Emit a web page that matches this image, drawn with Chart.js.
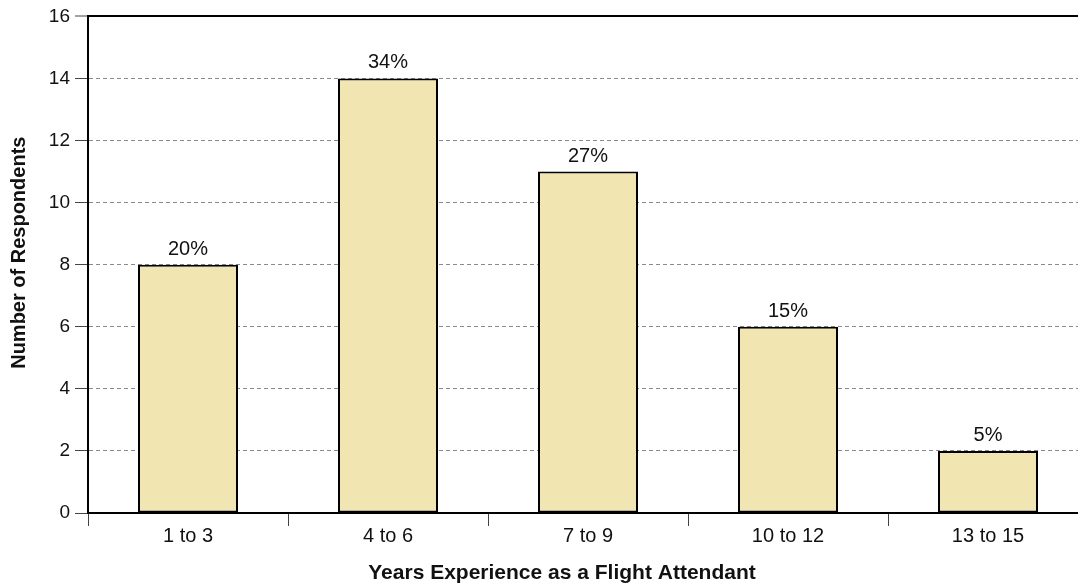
<!DOCTYPE html>
<html>
<head>
<meta charset="utf-8">
<script src="https://cdn.jsdelivr.net/npm/chart.js@4/dist/chart.umd.min.js"></script>
<style>
html,body{margin:0;padding:0;background:#fff;overflow:hidden;width:1078px;height:586px;}
#wrap{width:1088px;height:586px;}
</style>
</head>
<body>
<div id="wrap"><canvas id="c" width="1088" height="586"></canvas></div>
<script>
const categories = ["1 to 3", "4 to 6", "7 to 9", "10 to 12", "13 to 15"];
const respondents = [8, 14, 11, 6, 2];
const percentLabels = ["20%", "34%", "27%", "15%", "5%"];
const yTicks = [0, 2, 4, 6, 8, 10, 12, 14, 16];
const xTitle = "Years Experience as a Flight Attendant";
const yTitle = "Number of Respondents";

const FONT = "'Liberation Sans', Arial, sans-serif";

const barLabels = {
  id: 'barLabels',
  afterDatasetsDraw(chart) {
    const ctx = chart.ctx;
    const meta = chart.getDatasetMeta(0);
    ctx.save();
    ctx.font = "20px " + FONT;
    ctx.fillStyle = "#111";
    ctx.textAlign = "center";
    ctx.textBaseline = "alphabetic";
    meta.data.forEach((bar, i) => {
      ctx.fillText(percentLabels[i], bar.x, bar.y - 10);
    });
    ctx.restore();
  }
};

const axisTitles = {
  id: 'axisTitles',
  afterDraw(chart) {
    const ctx = chart.ctx;
    const a = chart.chartArea;
    ctx.save();
    ctx.fillStyle = "#111";
    ctx.textAlign = "center";
    ctx.textBaseline = "alphabetic";
    ctx.font = "bold 21px " + FONT;
    ctx.fillText(xTitle, (a.left + a.right) / 2 - 26, 579);
    ctx.translate(25, (a.top + a.bottom) / 2 - 12);
    ctx.rotate(-Math.PI / 2);
    ctx.font = "bold 20px " + FONT;
    ctx.fillText(yTitle, 0, 0);
    ctx.restore();
  }
};

new Chart(document.getElementById('c'), {
  type: 'bar',
  data: {
    labels: categories,
    datasets: [{
      data: respondents,
      backgroundColor: '#F1E5B1',
      borderColor: '#000',
      borderWidth: 2,
      borderSkipped: false,
      categoryPercentage: 1.0,
      barPercentage: 0.5
    }]
  },
  options: {
    responsive: false,
    animation: false,
    devicePixelRatio: 1,
    layout: { padding: { top: 14, right: 0, left: 0, bottom: 0 } },
    plugins: { legend: { display: false }, tooltip: { enabled: false } },
    scales: {
      x: {
        afterFit(scale) { scale.height = 73; },
        grid: {
          drawOnChartArea: false,
          offset: true,
          tickLength: 13,
          tickColor: '#444',
          tickWidth: 1
        },
        border: { display: true, color: '#000', width: 2 },
        ticks: {
          padding: -2,
          color: '#111',
          font: { family: FONT, size: 20 }
        },
        title: { display: false }
      },
      y: {
        min: 0,
        max: 16,
        afterFit(scale) { scale.width = 88; },
        afterBuildTicks(scale) { scale.ticks = yTicks.map(v => ({ value: v })); },
        grid: {
          color: (ctx) => ctx.tick && ctx.tick.value === 16 ? '#000' : '#8a8a8a',
          lineWidth: (ctx) => ctx.tick && ctx.tick.value === 16 ? 2 : 1,
          tickLength: 13,
          tickColor: '#444',
          tickWidth: 1
        },
        border: {
          display: true,
          color: '#000',
          width: 2,
          dash: (ctx) => ctx.tick && ctx.tick.value === 16 ? [] : [4, 3]
        },
        ticks: {
          padding: 5,
          color: '#111',
          font: { family: FONT, size: 19 }
        },
        title: { display: false }
      }
    }
  },
  plugins: [barLabels, axisTitles]
});
</script>
</body>
</html>
